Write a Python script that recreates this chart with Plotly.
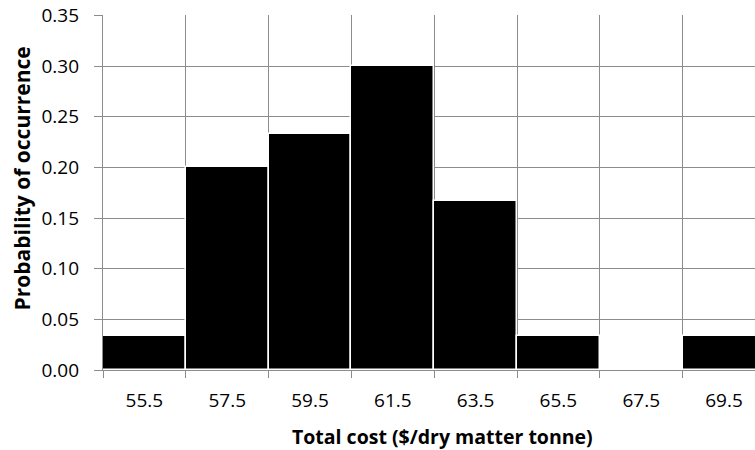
import plotly.graph_objects as go

categories = ["55.5", "57.5", "59.5", "61.5", "63.5", "65.5", "67.5", "69.5"]
probabilities = [0.0333, 0.2, 0.2333, 0.3, 0.1667, 0.0333, 0.0, 0.0333]
y_ticks = [0.0, 0.05, 0.10, 0.15, 0.20, 0.25, 0.30, 0.35]
x_title = "Total cost ($/dry matter tonne)"
y_title = "Probability of occurrence"

fig = go.Figure(go.Bar(
    x=categories, y=probabilities,
    marker=dict(color="black", line=dict(color="white", width=1.5)),
    hoverinfo="skip",
))

font = "'Open Sans', sans-serif"
fig.update_layout(
    width=755, height=450,
    margin=dict(l=103, r=0, t=15, b=80),
    paper_bgcolor="white", plot_bgcolor="white",
    bargap=0, showlegend=False,
    font=dict(family=font, size=19, color="black"),
)
fig.update_xaxes(
    type="category", range=[-0.5, 7.374], tickson="boundaries",
    showgrid=True, gridcolor="#8c8c8c", gridwidth=1.3,
    showline=True, linecolor="#8c8c8c", linewidth=1.3,
    ticks="outside", ticklen=7, tickcolor="#8c8c8c", tickwidth=1.3,
    tickfont=dict(size=19), automargin=False, ticklabelstandoff=13,
)
fig.update_yaxes(
    range=[0, 0.3504], tickvals=y_ticks, tickformat=".2f",
    showgrid=True, gridcolor="#8c8c8c", gridwidth=1.3,
    showline=True, linecolor="#8c8c8c", linewidth=1.3,
    ticks="outside", ticklen=8, tickcolor="#8c8c8c", tickwidth=1.3,
    tickfont=dict(size=19), zeroline=False, automargin=False,
    ticklabeloverflow="allow", ticklabelstandoff=11,
)
fig.add_annotation(
    text=f"<b>{x_title}</b>", xref="paper", yref="paper",
    x=(442 - 103) / 652, y=-(436 - 370) / 355,
    xanchor="center", yanchor="middle", showarrow=False,
    font=dict(size=19.5),
)
fig.add_annotation(
    text=f"<b>{y_title}</b>", xref="paper", yref="paper", textangle=-90,
    x=-(103 - 21) / 652, y=(370 - 178.5) / 355,
    xanchor="center", yanchor="middle", showarrow=False,
    font=dict(size=21),
)
fig.write_html(
    "out.html",
    config={"displayModeBar": False},
    post_script="document.body.style.margin='0px';",
)
